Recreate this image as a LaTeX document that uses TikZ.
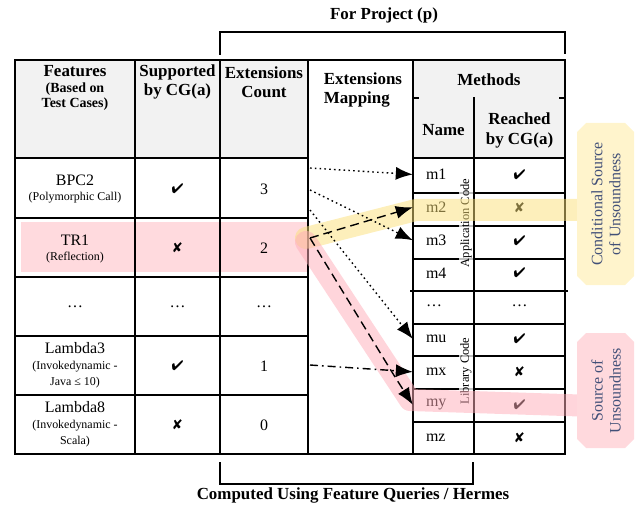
\documentclass[tikz,border=0pt]{standalone}
\usepackage{fontspec}
\setmainfont{Liberation Serif}
\usepackage{pifont}
\usetikzlibrary{arrows.meta,shapes.misc,positioning}

\definecolor{headgray}{RGB}{242,242,242}
\definecolor{sidetxt}{RGB}{66,80,120}
\definecolor{ylwband}{RGB}{251,224,120}
\definecolor{ylwbox}{RGB}{255,244,204}
\definecolor{pnkband}{RGB}{255,172,184}
\definecolor{pnkbox}{RGB}{255,217,221}
\definecolor{pnkrow}{RGB}{255,218,222}

\newcommand{\cmark}{{\fontsize{14}{14}\selectfont\ding{52}}}
\newcommand{\xmark}{{\fontsize{14}{14}\selectfont\ding{56}}}

\tikzset{
  GR/.style={line width=1.3bp, line cap=rect},
  HD/.style={font=\bfseries\fontsize{17}{19}\selectfont, align=center, inner sep=1pt},
  CL/.style={font=\fontsize{16}{16}\selectfont, align=center, inner sep=1pt},
  MN/.style={font=\fontsize{16}{18}\selectfont, text width=35bp, inner xsep=13bp,
             inner ysep=0pt, minimum height=33bp, align=left},
  LB/.style={rotate=90, font=\fontsize{12.5}{14}\selectfont, fill=white,
             fill opacity=0.75, text opacity=1, inner sep=1pt},
  SL/.style={rotate=90, align=center, text=sidetxt,
             font=\fontsize{16}{18}\selectfont, inner sep=2pt},
  BD/.style={line width=22bp, line cap=round, line join=round, draw opacity=0.5},
  DOT/.style={-{Latex[length=17bp,width=13bp]}, line width=1.4bp,
              dash pattern=on 1.6bp off 3.2bp},
  DSH/.style={-{Latex[length=17bp,width=13bp]}, line width=1.4bp,
              dash pattern=on 9bp off 5bp},
  DDT/.style={-{Latex[length=17bp,width=13bp]}, line width=1.4bp,
              dash pattern=on 8bp off 4bp on 1.6bp off 4bp}
}

\begin{document}
\begin{tikzpicture}[x=1bp, y=-1bp]
\useasboundingbox (0,0) rectangle (644,506);

% ---- header fills and highlighted row ----
\fill[headgray] (15,60) rectangle (308,158);
\fill[headgray] (413,60) rectangle (565,158);
\fill[pnkrow] (21,222) rectangle (308,272);

% ---- grid ----
\draw[GR] (15,60) rectangle (565,454);
\foreach \x in {135,220,308,413}
  \draw[GR] (\x,60) -- (\x,454);
\draw[GR] (474,98) -- (474,454);
\draw[GR] (413,98) -- (418,98);
\draw[GR] (560,98) -- (565,98);
\foreach \y in {158,218,277,336,395}
  \draw[GR] (15,\y) -- (308,\y);
\foreach \y in {158,193,226,259,324,356,389,422}
  \draw[GR] (413,\y) -- (565,\y);
\draw[GR, line width=2.6bp] (411,291) -- (567,291);

% ---- brackets ----
\node[HD] (proj) at (384,15) {For Project (p)};
\draw[GR] (220,54) -- (220,32) -- (565,32) -- (565,53);
\draw[GR] (220,463) -- (220,484) -- (473,484) -- (473,463);
\node[HD] (hermes) at (353,495) {Computed Using Feature Queries / Hermes};

% ---- header row ----
\node[HD, font=\bfseries\fontsize{14}{16}\selectfont] (hfeat) at (75,88)
    {{\fontsize{17}{16}\selectfont Features}\\(Based on\\Test Cases)};
\node[HD] (hsupp) at (177.5,82) {Supported\\by CG(a)};
\node[HD] (hcnt)  at (264,82)   {Extensions\\Count};
\node[HD, align=left] (hmap) at (363,90) {Extensions\\Mapping};
\node[HD] (hmeth) at (489,80)   {Methods};
\node[HD] (hname) at (443.5,130) {Name};
\node[HD, font=\bfseries\fontsize{17}{20}\selectfont] (hreach) at (519.5,130)
    {Reached\\by CG(a)};

% ---- feature rows ----
\node[CL] (bpc) at (75,189) {BPC2\\{\fontsize{12}{14}\selectfont (Polymorphic Call)}};
\node[CL] (bpcS) at (177.5,189) {\cmark};
\node[CL] (bpcN) at (264,189) {3};

\node[CL] (tr) at (75,249) {TR1\\{\fontsize{12}{14}\selectfont (Reflection)}};
\node[CL] (trS) at (177.5,248) {\xmark};
\node[CL] (trN) at (264,248) {2};

\node[CL] (dots) at (75,307) {\dots};
\node[CL] (dotsS) at (177.5,307) {\dots};
\node[CL] (dotsN) at (264,307) {\dots};

\node[CL] (lamA) at (75,365)
    {Lambda3\\{\fontsize{12}{14}\selectfont (Invokedynamic -}\\{\fontsize{12}{14}\selectfont Java ≤ 10)}};
\node[CL] (lamAS) at (177.5,366) {\cmark};
\node[CL] (lamAN) at (264,366) {1};

\node[CL] (lamB) at (75,424)
    {Lambda8\\{\fontsize{12}{14}\selectfont (Invokedynamic -}\\{\fontsize{12}{14}\selectfont Scala)}};
\node[CL] (lamBS) at (177.5,425) {\xmark};
\node[CL] (lamBN) at (264,425) {0};

% ---- method rows ----
\foreach \id/\txt/\mk [count=\i] in {m1/m1/\cmark, m2/m2/\xmark, m3/m3/\cmark,
    m4/m4/\cmark, mdots/\dots/\dots, mu/mu/\cmark, mx/mx/\xmark, my/my/\cmark,
    mz/mz/\xmark}
{
  \node[MN] (\id) at (443.5,{158+(\i-0.5)*32.9}) {\txt};
  \node[CL] (\id r) at (519.5,{158+(\i-0.5)*32.9}) {\mk};
}
\node[LB] (app) at (466,223) {Application Code};
\node[LB] (lib) at (466,371) {Library Code};

% ---- highlight bands ----
\draw[BD, draw=ylwband] (306,238) -- (416,210) -- (580,210);
\draw[BD, draw=pnkband] (306,242) -- (410,400) -- (580,405.5);

% ---- side labels (chamfered boxes) ----
\fill[ylwbox] (577,132) -- (586,123) -- (625,123) -- (634,132)
           -- (634,276) -- (625,285) -- (586,285) -- (577,276) -- cycle;
\node[SL] (cond) at (606,204) {Conditional Source\\of Unsoundness};
\fill[pnkbox] (577,342) -- (586,333) -- (625,333) -- (634,342)
           -- (634,439) -- (625,448) -- (586,448) -- (577,439) -- cycle;
\node[SL] (src) at (606,390.5) {Source of\\Unsoundness};

% ---- extension mapping arrows ----
\coordinate (bpcA) at (310,168);
\coordinate (bpcB) at (310,190);
\coordinate (bpcC) at (310,210);
\coordinate (trA)  at (310,238);
\coordinate (trK)  at (395,377);
\coordinate (lamX) at (310,365);

\draw[DOT] (bpcA) -- (m1.west);
\draw[DOT] (bpcB) -- (m3.west);
\draw[DOT] (bpcC) -- (mu.west);
\draw[DSH] (trA) -- (m2.west);
\draw[DSH] (trA) -- (trK) -- (my.west);
\draw[DDT] (lamX) -- (mx.west);

\end{tikzpicture}
\end{document}
